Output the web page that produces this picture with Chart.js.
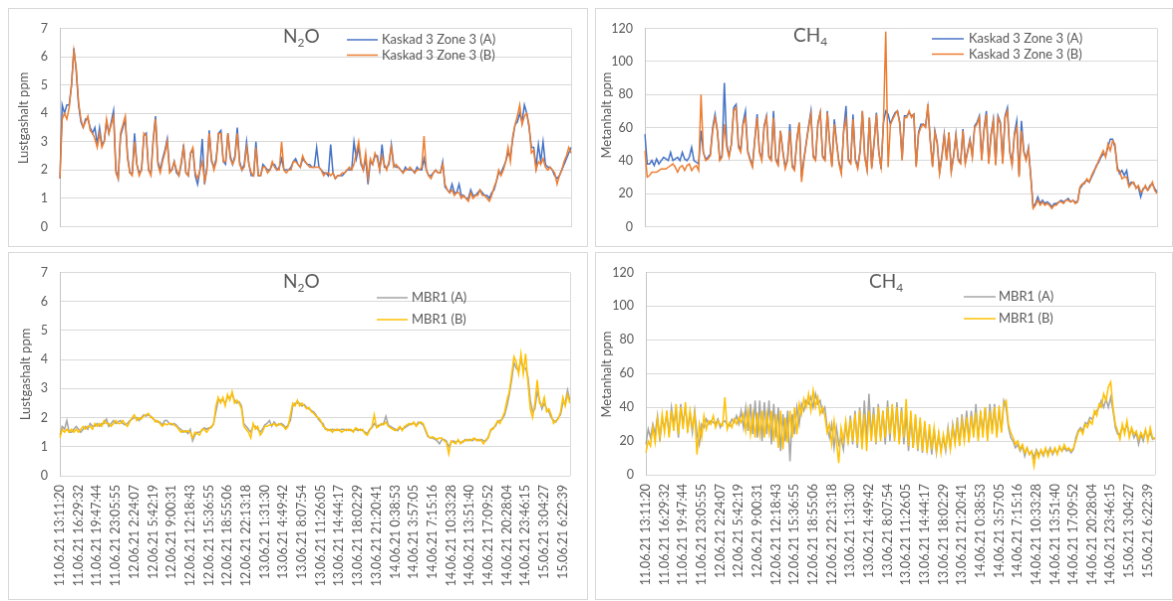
<!DOCTYPE html>
<html>
<head>
<meta charset="utf-8">
<script src="https://cdn.jsdelivr.net/npm/chart.js@4/dist/chart.umd.min.js"></script>
<style>
  html, body { margin: 0; padding: 0; background: #fff; }
  body { width: 1173px; height: 601px; overflow: hidden; position: relative; }
  canvas { position: absolute; border: 1px solid #d9d9d9; background: #fff; }
</style>
</head>
<body>
<canvas id="n2oKaskad" width="580" height="239" style="left:8px;top:8px"></canvas>
<canvas id="ch4Kaskad" width="578" height="239" style="left:595px;top:8px"></canvas>
<canvas id="n2oMbr" width="580" height="348" style="left:8px;top:252px"></canvas>
<canvas id="ch4Mbr" width="578" height="348" style="left:595px;top:252px"></canvas>
<script>
// Time stamps printed under the x axis (one every 8 readings)
const tickLabels = [
  '11.06.21 13:11:20', '11.06.21 16:29:32', '11.06.21 19:47:44', '11.06.21 23:05:55',
  '12.06.21 2:24:07', '12.06.21 5:42:19', '12.06.21 9:00:31', '12.06.21 12:18:43',
  '12.06.21 15:36:55', '12.06.21 18:55:06', '12.06.21 22:13:18', '13.06.21 1:31:30',
  '13.06.21 4:49:42', '13.06.21 8:07:54', '13.06.21 11:26:05', '13.06.21 14:44:17',
  '13.06.21 18:02:29', '13.06.21 21:20:41', '14.06.21 0:38:53', '14.06.21 3:57:05',
  '14.06.21 7:15:16', '14.06.21 10:33:28', '14.06.21 13:51:40', '14.06.21 17:09:52',
  '14.06.21 20:28:04', '14.06.21 23:46:15', '15.06.21 3:04:27', '15.06.21 6:22:39'
];
const pointsPerTick = 8;

const kaskadNames = ['Kaskad 3 Zone 3 (A)', 'Kaskad 3 Zone 3 (B)'];
const mbrNames = ['MBR1 (A)', 'MBR1 (B)'];

// N2O, Kaskad 3 Zone 3 (ppm)
const n2oKaskadA = [
  1.7,4.3,4.0,4.3,4.3,5.0,6.3,5.5,4.3,3.7,
  3.5,3.8,3.8,3.5,3.3,3.5,2.9,3.5,2.9,3.0,
  3.7,3.3,3.7,4.1,2.0,1.7,3.2,3.5,3.8,2.5,
  1.9,1.9,3.3,2.2,1.9,2.0,3.2,3.3,2.0,1.9,
  3.1,3.9,2.3,2.0,2.4,2.7,3.1,2.0,2.0,2.3,
  1.9,1.8,2.2,2.9,1.9,1.8,2.6,2.7,1.8,1.5,
  2.0,3.1,1.5,2.1,3.4,2.3,2.1,2.4,3.3,3.4,
  2.3,2.2,3.3,2.5,2.2,2.5,3.5,2.3,2.0,2.2,
  3.0,2.2,1.8,1.8,3.0,1.8,1.8,2.2,2.1,2.0,
  2.0,2.2,2.2,2.0,2.1,2.4,2.0,2.0,2.0,2.1,
  2.3,2.4,2.2,2.1,2.4,2.3,2.2,2.2,2.1,2.1,
  2.8,2.1,2.0,1.9,1.9,1.8,2.9,1.9,1.7,1.8,
  1.8,1.8,1.9,2.0,2.0,2.0,3.0,2.4,2.8,2.2,
  2.0,2.4,1.5,2.3,2.2,2.5,2.5,2.0,2.9,2.1,
  2.1,2.2,2.9,2.2,2.1,2.1,2.0,1.9,2.1,2.0,
  2.0,2.0,1.9,2.1,2.0,2.0,2.4,2.0,1.8,1.8,
  1.9,2.0,1.9,1.9,2.3,1.4,1.3,1.2,1.5,1.2,
  1.2,1.5,1.1,1.1,1.0,1.0,1.3,1.1,1.1,1.2,
  1.3,1.2,1.1,1.1,1.0,1.2,1.3,1.6,1.9,1.9,
  2.1,2.3,2.6,2.5,3.1,3.6,3.7,4.0,3.7,4.3,
  4.0,3.5,2.8,2.8,2.1,2.9,2.3,3.0,2.2,2.1,
  2.1,2.0,1.8,1.7,1.8,2.0,2.2,2.4,2.6,2.8
];
const n2oKaskadB = [
  1.7,3.8,4.0,3.8,4.2,5.0,6.2,5.6,4.4,3.8,
  3.5,3.7,3.9,3.4,3.3,3.1,2.8,3.3,2.8,3.0,
  3.8,3.3,3.6,3.9,1.9,1.7,3.3,3.6,3.9,2.4,
  1.9,1.8,3.0,2.2,1.8,2.0,3.3,3.2,2.0,1.8,
  3.0,3.8,2.2,1.9,2.3,2.6,3.0,1.9,2.0,2.3,
  2.0,1.8,2.3,2.8,1.9,1.8,2.6,2.8,1.9,1.7,
  2.0,2.3,1.6,2.0,3.3,2.4,2.0,2.3,3.3,3.3,
  2.3,2.3,3.3,2.4,2.2,2.4,3.3,2.2,2.0,2.1,
  2.8,2.2,1.9,1.8,2.8,1.8,1.8,2.1,2.1,1.9,
  2.0,2.3,2.1,2.0,2.0,3.0,2.0,1.9,2.0,2.0,
  2.3,2.3,2.2,2.1,2.5,2.3,2.2,2.1,2.1,2.1,
  2.1,2.1,2.0,1.8,1.9,1.9,1.8,1.9,1.7,1.8,
  1.8,1.9,1.9,2.0,2.1,2.0,2.2,2.6,3.0,2.3,
  2.0,2.6,1.7,2.4,2.2,2.6,2.4,2.0,2.5,2.2,
  2.0,2.3,2.8,2.1,2.2,2.1,2.0,1.9,2.0,2.0,
  2.1,2.0,1.9,2.0,2.0,2.1,3.2,2.0,1.8,1.7,
  1.9,2.0,1.9,1.9,2.2,1.5,1.3,1.2,1.3,1.1,
  1.2,1.2,1.0,1.1,1.0,0.9,1.2,1.0,1.1,1.1,
  1.3,1.1,1.1,1.0,0.9,1.1,1.4,1.6,2.0,1.8,
  2.0,2.3,2.8,2.3,3.2,3.6,3.9,4.3,3.6,3.9,
  4.0,3.6,2.6,2.7,2.0,2.3,2.2,2.4,2.1,2.0,
  2.1,2.0,1.9,1.5,1.8,2.0,2.3,2.5,2.8,2.6
];

// CH4, Kaskad 3 Zone 3 (ppm)
const ch4KaskadA = [
  56,38,38,40,37,41,38,40,42,41,
  40,45,40,41,42,40,45,41,40,42,
  48,40,39,38,58,45,41,42,44,60,
  68,58,41,43,87,50,43,50,72,74,
  50,46,63,70,46,41,37,53,68,46,
  41,61,67,43,41,70,41,38,58,46,
  36,41,62,37,35,53,63,30,41,51,
  61,70,43,41,63,69,43,41,70,51,
  37,65,51,39,33,58,73,41,39,68,
  41,36,46,70,43,35,66,36,51,69,
  46,35,63,70,68,62,66,69,70,63,
  41,67,67,69,67,68,37,57,62,62,
  61,72,53,37,58,51,33,43,56,41,
  57,34,43,56,41,39,59,39,46,53,
  43,61,63,67,41,59,70,39,56,65,
  38,67,63,39,67,72,46,38,56,64,
  31,64,46,41,48,31,12,14,18,14,
  16,14,15,14,12,14,14,15,16,15,
  16,17,15,16,15,15,23,25,27,28,
  27,30,33,37,39,42,44,43,48,53,
  53,48,36,32,34,31,34,25,27,26,
  24,24,18,23,24,22,25,26,23,21
];
const ch4KaskadB = [
  46,30,31,33,33,33,34,35,35,35,
  36,37,38,36,33,36,37,34,37,38,
  34,36,37,34,80,45,40,41,43,58,
  66,58,40,42,62,48,42,50,70,72,
  48,45,62,66,45,40,36,52,66,45,
  40,60,66,42,40,66,40,37,58,45,
  35,40,58,36,34,52,63,27,40,50,
  60,68,42,40,62,69,42,40,69,50,
  36,62,50,38,32,58,65,40,38,65,
  40,35,45,70,42,34,66,35,50,68,
  45,36,62,118,36,62,65,68,70,62,
  40,66,66,70,66,68,36,56,60,62,
  60,74,52,36,57,50,32,42,55,40,
  57,33,42,55,40,38,58,38,45,52,
  42,60,62,66,40,58,68,38,55,64,
  37,66,62,38,66,70,45,37,55,60,
  30,58,45,40,47,30,11,13,16,13,
  15,13,14,13,11,13,13,15,15,14,
  16,16,15,16,14,15,24,26,26,29,
  27,31,34,36,40,43,46,42,50,46,
  52,50,34,34,29,30,30,24,26,27,
  23,25,21,22,25,22,24,27,22,20
];

// N2O, MBR1 (ppm)
const n2oMbrA = [
  1.4,1.7,1.6,1.9,1.5,1.5,1.6,1.7,1.6,1.5,
  1.6,1.7,1.6,1.8,1.7,1.7,1.8,1.7,1.8,1.8,
  1.95,1.7,1.8,1.9,1.8,1.85,1.9,1.8,1.75,1.8,
  1.9,1.95,2.0,2.0,1.9,2.0,2.1,2.05,2.1,2.05,
  1.95,1.9,1.85,1.85,1.75,1.9,1.9,1.8,1.75,1.8,
  1.75,1.65,1.6,1.5,1.55,1.45,1.6,1.2,1.4,1.5,
  1.5,1.55,1.65,1.6,1.65,1.65,1.8,2.2,2.6,2.6,
  2.6,2.5,2.7,2.7,2.8,2.6,2.5,2.55,2.4,1.8,
  1.7,1.6,1.5,1.7,1.7,1.6,1.5,1.6,1.75,1.8,
  1.9,1.7,1.85,1.75,1.75,1.8,1.75,1.65,1.75,1.9,
  2.4,2.5,2.5,2.5,2.4,2.45,2.35,2.3,2.25,2.2,
  2.1,1.95,1.85,1.8,1.6,1.6,1.55,1.6,1.55,1.6,
  1.55,1.6,1.6,1.55,1.6,1.55,1.55,1.6,1.55,1.6,
  1.55,1.5,1.45,1.6,1.65,1.8,1.7,1.75,1.75,1.8,
  2.05,1.75,1.7,1.65,1.6,1.55,1.65,1.6,1.65,1.7,
  1.75,1.8,1.8,1.75,1.85,1.8,1.75,1.55,1.35,1.3,
  1.3,1.25,1.2,1.1,1.25,1.25,1.2,1.0,1.15,1.2,
  1.15,1.2,1.15,1.15,1.25,1.2,1.25,1.2,1.25,1.25,
  1.2,1.25,1.2,1.2,1.35,1.55,1.65,1.7,1.85,1.9,
  1.95,2.1,2.4,2.8,3.3,3.9,3.7,3.6,4.0,3.7,
  3.7,3.4,2.6,2.2,2.3,2.9,2.6,2.3,2.5,2.3,
  2.2,2.0,1.9,1.85,2.0,2.1,2.5,2.5,2.95,2.6
];
const n2oMbrB = [
  1.3,1.6,1.5,1.6,1.5,1.6,1.5,1.6,1.5,1.6,
  1.7,1.6,1.7,1.7,1.6,1.8,1.7,1.8,1.7,1.9,
  1.8,1.8,1.7,1.8,1.9,1.8,1.8,1.9,1.8,1.7,
  1.85,2.0,2.1,1.9,2.0,1.95,2.05,2.1,2.15,2.0,
  2.0,1.85,1.9,1.8,1.7,1.8,1.75,1.8,1.8,1.75,
  1.7,1.6,1.5,1.55,1.5,1.55,1.5,1.3,1.5,1.45,
  1.4,1.6,1.6,1.5,1.6,1.7,1.75,2.4,2.7,2.5,
  2.7,2.4,2.8,2.6,2.9,2.5,2.6,2.5,2.3,1.7,
  1.6,1.5,1.3,1.8,1.6,1.7,1.4,1.5,1.7,1.7,
  1.75,1.75,1.8,1.7,1.8,1.75,1.7,1.6,1.7,2.1,
  2.5,2.4,2.6,2.4,2.5,2.4,2.3,2.35,2.2,2.15,
  2.05,2.0,1.9,1.7,1.65,1.55,1.6,1.5,1.6,1.55,
  1.6,1.5,1.55,1.6,1.55,1.6,1.5,1.65,1.6,1.55,
  1.6,1.45,1.4,1.55,1.7,2.1,1.65,1.7,1.8,1.75,
  1.85,1.7,1.65,1.6,1.55,1.6,1.7,1.55,1.7,1.75,
  1.8,1.75,1.85,1.7,1.8,1.85,1.8,1.6,1.4,1.3,
  1.35,1.3,1.25,1.3,1.3,1.2,1.15,0.75,1.2,1.15,
  1.1,1.25,1.1,1.2,1.2,1.25,1.2,1.25,1.3,1.2,
  1.25,1.2,1.1,1.25,1.3,1.6,1.6,1.75,1.9,1.8,
  2.0,2.2,2.6,2.9,3.5,4.1,3.9,3.5,4.2,3.5,
  4.2,3.2,2.3,2.0,2.5,3.3,2.5,2.4,2.7,2.2,
  2.3,2.1,1.8,1.9,1.95,2.2,2.7,2.4,2.8,2.5
];

// CH4, MBR1 (ppm)
const ch4MbrA = [
  18,27,22,30,24,35,20,33,28,36,
  24,40,30,38,22,42,30,40,27,36,
  25,38,24,18,30,28,33,30,32,31,
  30,33,28,31,32,30,29,33,31,35,
  30,38,28,40,26,42,24,44,22,44,
  20,43,24,44,18,42,22,40,14,36,
  20,38,8,36,24,40,30,42,38,44,
  42,46,40,48,42,44,37,40,28,22,
  30,16,28,18,22,15,30,20,35,18,
  38,16,40,18,44,20,48,22,40,18,
  42,22,38,18,44,20,40,22,43,20,
  40,18,36,14,34,16,34,14,32,13,
  30,15,26,12,27,13,24,15,22,14,
  28,16,30,20,34,18,36,22,38,20,
  38,24,42,22,36,26,40,22,42,26,
  42,24,38,26,44,40,28,22,20,16,
  18,14,17,11,16,12,14,10,15,12,
  14,11,15,13,16,12,15,13,16,14,
  16,14,15,13,15,22,26,28,26,31,
  30,34,33,36,38,40,44,40,45,40,
  46,38,28,24,24,28,26,30,24,27,
  22,25,18,24,20,26,22,25,21,22
];
const ch4MbrB = [
  13,20,17,28,19,33,22,36,25,38,
  22,38,26,42,24,40,27,43,25,38,
  28,36,12,30,22,35,27,32,30,35,
  28,32,30,29,46,27,31,28,33,30,
  34,31,36,26,38,24,36,22,37,24,
  38,22,36,25,38,20,36,16,38,15,
  34,19,38,22,40,24,42,36,45,40,
  48,38,50,40,46,36,40,35,25,30,
  18,32,20,7,28,20,32,18,33,20,
  36,18,38,15,36,14,38,20,36,19,
  40,20,38,22,40,24,42,20,40,18,
  38,22,45,17,38,16,36,15,34,14,
  32,13,30,15,28,14,25,13,24,16,
  26,15,28,18,30,17,32,20,34,19,
  35,22,37,20,38,22,40,20,38,24,
  40,22,41,25,42,44,30,25,22,18,
  20,15,18,13,16,12,14,5,14,10,
  15,12,16,11,15,13,16,12,17,14,
  18,15,16,14,16,20,25,27,24,30,
  28,32,30,38,35,42,40,48,44,52,
  55,40,30,26,21,30,24,32,22,28,
  24,26,21,25,22,27,20,28,22,21
];

// One category per reading; only every 8th carries a printed time stamp
const categories = n2oKaskadB.map((_, i) =>
  i % pointsPerTick === 0 ? (tickLabels[i / pointsPerTick] || '') : '');

const TEXT = '#595959';
const FONT = 'Lato';

// Per-canvas decorations: title with subscript, rotated axis title, legend
const decor = {
  n2oKaskad: { title: { x: 275, y: 34, parts: [['N', 0], ['2', 1], ['O', 0]] },
               axis: { text: 'Lustgashalt ppm', x: 15, y: 110 },
               legend: { x1: 339, x2: 370, tx: 374, y: 31, dy: 15.5 } },
  ch4Kaskad: { title: { x: 198, y: 33, parts: [['CH', 0], ['4', 1]] },
               axis: { text: 'Metanhalt ppm', x: 11, y: 107 },
               legend: { x1: 337, x2: 369, tx: 374, y: 30, dy: 15.5 } },
  n2oMbr:    { title: { x: 275, y: 35, parts: [['N', 0], ['2', 1], ['O', 0]] },
               axis: { text: 'Lustgashalt ppm', x: 17, y: 122 },
               legend: { x1: 369, x2: 400, tx: 404, y: 45, dy: 22 } },
  ch4Mbr:    { title: { x: 274, y: 35, parts: [['CH', 0], ['4', 1]] },
               axis: { text: 'Metanhalt ppm', x: 11, y: 122 },
               legend: { x1: 369, x2: 401, tx: 404, y: 44, dy: 22 } }
};

const panelDecor = {
  id: 'panelDecor',
  beforeDatasetsDraw(chart) {
    const { ctx, chartArea: a } = chart;
    ctx.save();
    ctx.strokeStyle = '#d9d9d9';
    ctx.lineWidth = 1;
    const xr = Math.round(a.right) + 0.5;
    ctx.beginPath();
    ctx.moveTo(xr, a.top);
    ctx.lineTo(xr, a.bottom);
    ctx.stroke();
    ctx.restore();
  },
  afterDraw(chart) {
    const d = decor[chart.canvas.id];
    const ctx = chart.ctx;
    ctx.save();
    ctx.fillStyle = TEXT;
    ctx.textAlign = 'left';
    ctx.textBaseline = 'alphabetic';
    let x = d.title.x;
    for (const [txt, sub] of d.title.parts) {
      ctx.font = (sub ? 12 : 19) + 'px ' + FONT;
      ctx.fillText(txt, x, d.title.y + (sub ? 4 : 0));
      x += ctx.measureText(txt).width;
    }
    ctx.save();
    ctx.translate(d.axis.x, d.axis.y);
    ctx.rotate(-Math.PI / 2);
    ctx.textAlign = 'center';
    ctx.textBaseline = 'middle';
    ctx.font = '13px ' + FONT;
    ctx.fillText(d.axis.text, 0, 0);
    ctx.restore();
    ctx.font = '13px ' + FONT;
    ctx.textBaseline = 'middle';
    chart.data.datasets.forEach((ds, k) => {
      const y = d.legend.y + k * d.legend.dy;
      ctx.strokeStyle = ds.borderColor;
      ctx.lineWidth = 1.5;
      ctx.beginPath();
      ctx.moveTo(d.legend.x1, y);
      ctx.lineTo(d.legend.x2, y);
      ctx.stroke();
      ctx.fillText(ds.label, d.legend.tx, y);
    });
    ctx.restore();
  }
};

function drawPanel(id, names, seriesA, seriesB, colors, yMax, yStep, box, showTimes) {
  return new Chart(document.getElementById(id), {
    type: 'line',
    data: {
      labels: categories,
      datasets: [
        { label: names[0], data: seriesA, borderColor: colors[0], order: 1 },
        { label: names[1], data: seriesB, borderColor: colors[1], order: 0 }
      ].map(ds => Object.assign(ds, { borderWidth: 1.5, pointRadius: 0, tension: 0, fill: false }))
    },
    options: {
      responsive: false,
      animation: false,
      events: [],
      layout: { padding: { left: 0, top: box.top, right: box.right, bottom: 0 } },
      plugins: { legend: { display: false }, tooltip: { enabled: false } },
      scales: {
        x: {
          grid: { display: false, drawTicks: false },
          border: { display: true, color: '#d9d9d9' },
          ticks: {
            display: showTimes, autoSkip: false, maxRotation: 90, minRotation: 90,
            padding: 9, color: TEXT, font: { family: FONT, size: 12.5 },
            callback: (v, i) => categories[i] || null
          },
          afterFit: s => { s.height = box.xHeight; }
        },
        y: {
          min: 0, max: yMax,
          grid: { color: '#d9d9d9', drawTicks: false },
          border: { display: true, color: '#c6c6c6' },
          ticks: { stepSize: yStep, padding: 12, color: TEXT, font: { family: FONT, size: 12.5 } },
          afterFit: s => { s.width = box.yWidth; }
        }
      }
    },
    plugins: [panelDecor]
  });
}

drawPanel('n2oKaskad', kaskadNames, n2oKaskadA, n2oKaskadB, ['#4472C4', '#ED7D31'], 7, 1,
  { top: 17, right: 16, yWidth: 51, xHeight: 16 }, false);
drawPanel('ch4Kaskad', kaskadNames, ch4KaskadA, ch4KaskadB, ['#4472C4', '#ED7D31'], 120, 20,
  { top: 16, right: 15, yWidth: 49, xHeight: 17 }, false);
drawPanel('n2oMbr', mbrNames, n2oMbrA, n2oMbrB, ['#A5A5A5', '#FFC000'], 7, 1,
  { top: 18, right: 16, yWidth: 51, xHeight: 124 }, true);
drawPanel('ch4Mbr', mbrNames, ch4MbrA, ch4MbrB, ['#A5A5A5', '#FFC000'], 120, 20,
  { top: 18, right: 16, yWidth: 50, xHeight: 125 }, true);
</script>
</body>
</html>
